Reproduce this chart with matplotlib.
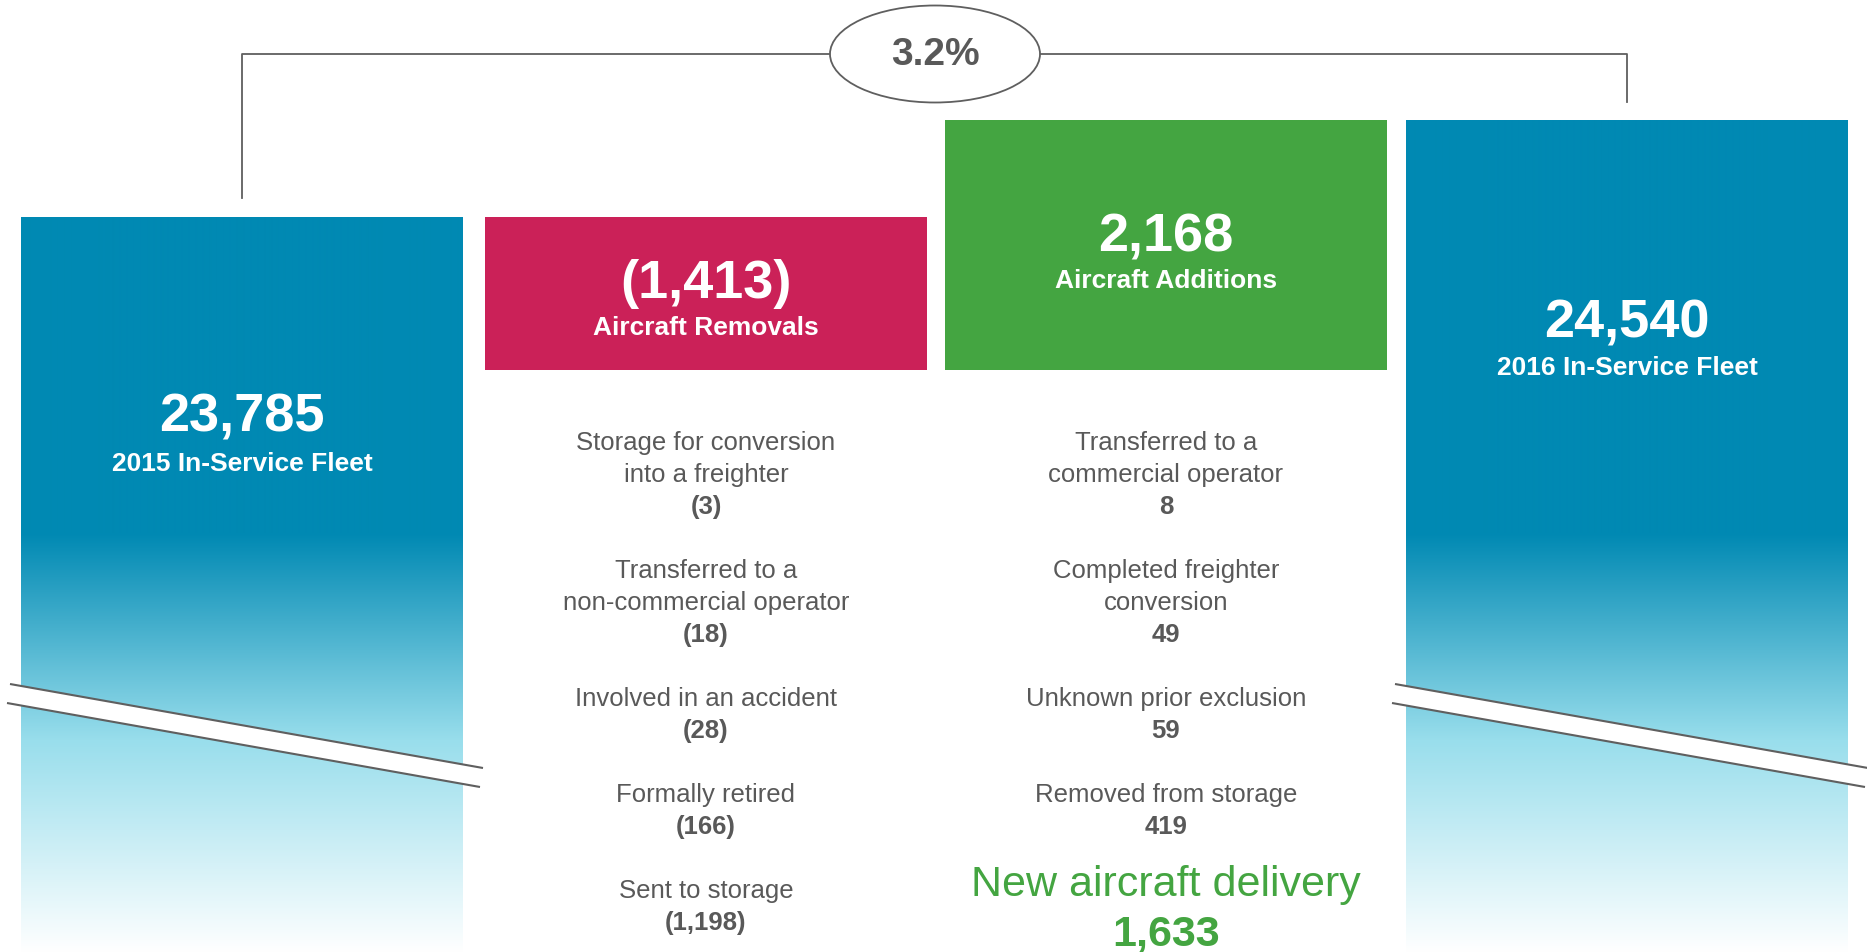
import matplotlib.pyplot as plt
from matplotlib.patches import Ellipse, Polygon
import numpy as np

# fleet totals
fleet_labels = ['2015 In-Service Fleet', '2016 In-Service Fleet']
fleet_totals = [23785, 24540]

# removals and additions breakdown
removal_labels = ['Storage for conversion\ninto a freighter',
                  'Transferred to a\nnon-commercial operator',
                  'Involved in an accident',
                  'Formally retired',
                  'Sent to storage']
removal_values = [3, 18, 28, 166, 1198]

addition_labels = ['Transferred to a\ncommercial operator',
                   'Completed freighter\nconversion',
                   'Unknown prior exclusion',
                   'Removed from storage',
                   'New aircraft delivery']
addition_values = [8, 49, 59, 419, 1633]

total_removals = sum(removal_values)
total_additions = sum(addition_values)
growth = (fleet_totals[1] / fleet_totals[0] - 1) * 100

# colours
BLUE = '#0089B3'
RED = '#CB2158'
GREEN = '#44A541'
GREY = '#595959'
LINE = '#5F5F5F'

plt.rcParams['font.family'] = ['Liberation Sans', 'DejaVu Sans']

W, H = 1867, 952
fig = plt.figure(figsize=(W / 100, H / 100), dpi=100)
ax = fig.add_axes([0, 0, 1, 1])

# column layout (pixel space)
col_left = [21, 485, 945, 1406]
col_w = 442
col_c = [x + col_w / 2 for x in col_left]
fleet_top = [217, 120]
box_top = [217, 120]
box_bottom = 370
grad_start = 533


def gradient_column(x0, top):
    n = H - top
    ys = np.arange(top, H)
    stops_y = [grad_start, 740, H]
    c0 = np.array([0, 137, 179]) / 255
    c1 = np.array([153, 222, 236]) / 255
    c2 = np.array([1.0, 1.0, 1.0])
    img = np.zeros((n, 1, 3))
    for i, y in enumerate(ys):
        if y <= stops_y[0]:
            c = c0
        elif y <= stops_y[1]:
            t = (y - stops_y[0]) / (stops_y[1] - stops_y[0])
            c = c0 + (c1 - c0) * t
        else:
            t = (y - stops_y[1]) / (stops_y[2] - stops_y[1])
            c = c1 + (c2 - c1) * t
        img[i, 0] = c
    ax.imshow(img, extent=[x0, x0 + col_w, H, top], aspect='auto',
              origin='upper', interpolation='bilinear', zorder=1)


# fleet bars with gradient fade
for i, x0 in zip([0, 1], [col_left[0], col_left[3]]):
    gradient_column(x0, fleet_top[i])

# break marks across the fleet bars
for x0 in [col_left[0], col_left[3]]:
    xa, xb = x0 - 14, x0 + col_w + 20
    up = [(xa + 3, 684), (xb, 768)]
    lo = [(xa, 703), (xb - 3, 787)]
    band = Polygon([up[0], up[1], lo[1], lo[0]], closed=True,
                   facecolor='white', edgecolor='none', zorder=2)
    ax.add_patch(band)
    for seg in (up, lo):
        ax.plot([seg[0][0], seg[1][0]], [seg[0][1], seg[1][1]],
                color=LINE, lw=1.5, zorder=3, solid_capstyle='butt')

# removal / addition boxes
ax.bar(col_c[1], box_bottom - box_top[0], bottom=box_top[0], width=col_w,
       color=RED, zorder=1)
ax.bar(col_c[2], box_bottom - box_top[1], bottom=box_top[1], width=col_w,
       color=GREEN, zorder=1)

# headline numbers
big = 39
sub = 19
ax.text(col_c[0], 417, f'{fleet_totals[0]:,}', color='white', fontsize=big,
        fontweight='bold', ha='center', va='center', zorder=4)
ax.text(col_c[0], 464, fleet_labels[0], color='white', fontsize=sub,
        fontweight='bold', ha='center', va='center', zorder=4)
ax.text(col_c[1], 284, f'({total_removals:,})', color='white', fontsize=big,
        fontweight='bold', ha='center', va='center', zorder=4)
ax.text(col_c[1], 328, 'Aircraft Removals', color='white', fontsize=sub,
        fontweight='bold', ha='center', va='center', zorder=4)
ax.text(col_c[2], 237, f'{total_additions:,}', color='white', fontsize=big,
        fontweight='bold', ha='center', va='center', zorder=4)
ax.text(col_c[2], 281, 'Aircraft Additions', color='white', fontsize=sub,
        fontweight='bold', ha='center', va='center', zorder=4)
ax.text(col_c[3], 323, f'{fleet_totals[1]:,}', color='white', fontsize=big,
        fontweight='bold', ha='center', va='center', zorder=4)
ax.text(col_c[3], 368, fleet_labels[1], color='white', fontsize=sub,
        fontweight='bold', ha='center', va='center', zorder=4)

# breakdown lists
step = 32
gap = 64
small = 18.5


def breakdown(xc, labels, values, fmt, last_special=False):
    y = 443
    for k, (lab, val) in enumerate(zip(labels, values)):
        if last_special and k == len(labels) - 1:
            ax.text(xc, y - 6, lab, color=GREEN, fontsize=31,
                    ha='center', va='center', zorder=4)
            ax.text(xc, y + 44, fmt(val), color=GREEN, fontsize=31,
                    fontweight='bold', ha='center', va='center', zorder=4)
            break
        lines = lab.split('\n')
        for ln in lines:
            ax.text(xc, y, ln, color=GREY, fontsize=small,
                    ha='center', va='center', zorder=4)
            y += step
        ax.text(xc, y, fmt(val), color=GREY, fontsize=small,
                fontweight='bold', ha='center', va='center', zorder=4)
        y += gap


breakdown(col_c[1], removal_labels, removal_values, lambda v: f'({v:,})')
breakdown(col_c[2], addition_labels, addition_values, lambda v: f'{v:,}',
          last_special=True)

# growth bracket
yb = 54
ax.plot([col_c[0], col_c[0], col_c[3], col_c[3]], [198, yb, yb, 102],
        color=LINE, lw=1.3, zorder=2)
ax.add_patch(Ellipse((935, yb), 210, 97, facecolor='white', edgecolor=LINE,
                     lw=1.3, zorder=3))
ax.text(935, yb + 1, f'{growth:.1f}%', color=GREY, fontsize=28,
        fontweight='bold', ha='center', va='center', zorder=4)

ax.set_xlim(0, W)
ax.set_ylim(H, 0)
ax.axis('off')

fig.savefig('out.png', dpi=100)
